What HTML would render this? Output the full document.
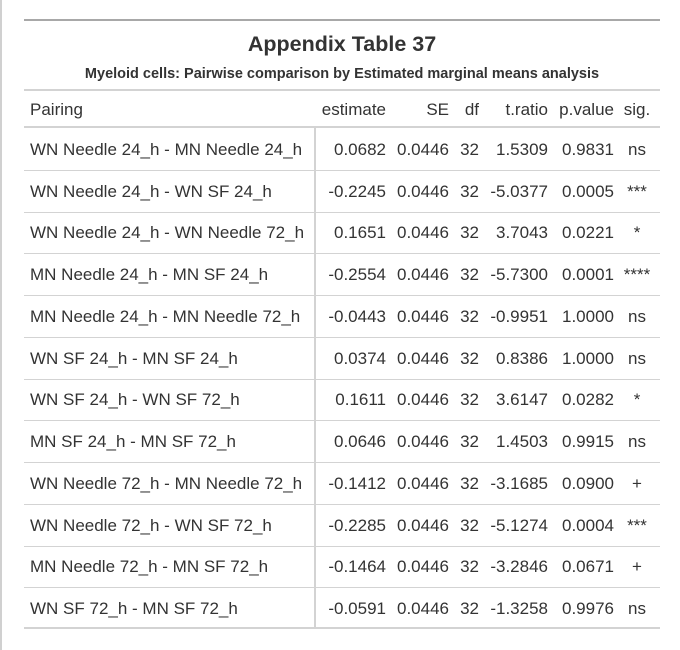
<!DOCTYPE html>
<html><head><meta charset="utf-8"><style>
body{margin:0;width:680px;height:650px;background:#fff;font-family:"Liberation Sans",sans-serif;color:#333;position:relative;overflow:hidden}
.lb{position:absolute;left:0;top:0;width:2px;height:650px;background:#d0d0d0}
.hl{position:absolute;left:24px;width:636px}
.t{position:absolute;white-space:nowrap;font-size:17px;line-height:20px}
.r{text-align:right}
.c{text-align:center}
</style></head><body>
<div class="lb"></div>
<div class="hl" style="top:19px;height:2px;background:#a8a8a8"></div>
<div class="t c" style="left:24px;width:636px;top:31px;font-size:21.5px;line-height:26px;font-weight:bold">Appendix Table 37</div>
<div class="t c" style="left:24px;width:636px;top:66px;font-size:14.5px;line-height:17px;font-weight:bold">Myeloid cells: Pairwise comparison by Estimated marginal means analysis</div>
<div class="hl" style="top:89px;height:2px;background:#d3d3d3"></div>
<div class="hl" style="top:126px;height:2px;background:#d3d3d3"></div>
<div style="position:absolute;left:314px;top:128px;width:2px;height:500px;background:#d3d3d3"></div>
<div class="hl" style="top:627px;height:2px;background:#d3d3d3"></div>
<div id="tbl"></div>
<script>
const pairings=["WN Needle 24_h - MN Needle 24_h","WN Needle 24_h - WN SF 24_h","WN Needle 24_h - WN Needle 72_h","MN Needle 24_h - MN SF 24_h","MN Needle 24_h - MN Needle 72_h","WN SF 24_h - MN SF 24_h","WN SF 24_h - WN SF 72_h","MN SF 24_h - MN SF 72_h","WN Needle 72_h - MN Needle 72_h","WN Needle 72_h - WN SF 72_h","MN Needle 72_h - MN SF 72_h","WN SF 72_h - MN SF 72_h"];
const estimate=["0.0682","-0.2245","0.1651","-0.2554","-0.0443","0.0374","0.1611","0.0646","-0.1412","-0.2285","-0.1464","-0.0591"];
const se=["0.0446","0.0446","0.0446","0.0446","0.0446","0.0446","0.0446","0.0446","0.0446","0.0446","0.0446","0.0446"];
const df=["32","32","32","32","32","32","32","32","32","32","32","32"];
const tratio=["1.5309","-5.0377","3.7043","-5.7300","-0.9951","0.8386","3.6147","1.4503","-3.1685","-5.1274","-3.2846","-1.3258"];
const pvalue=["0.9831","0.0005","0.0221","0.0001","1.0000","1.0000","0.0282","0.9915","0.0900","0.0004","0.0671","0.9976"];
const sig=["ns","***","*","****","ns","ns","*","ns","+","***","+","ns"];
const headers=["Pairing","estimate","SE","df","t.ratio","p.value","sig."];
const cols=[{x:30,cls:""},{x:386,cls:"r"},{x:449,cls:"r"},{x:479,cls:"r"},{x:548,cls:"r"},{x:614,cls:"r"},{x:637,cls:"c"}];
const tbl=document.getElementById('tbl');
function place(txt,ci,y,name){
  const d=document.createElement('div');
  d.className='t '+cols[ci].cls;
  d.textContent=txt;
  const c=cols[ci];
  if(c.cls==='r'){d.style.left=(c.x-100)+'px';d.style.width='100px';}
  else if(c.cls==='c'){d.style.left=(c.x-30)+'px';d.style.width='60px';}
  else{d.style.left=c.x+'px';}
  d.style.top=(y-10)+'px';
  
  
  tbl.appendChild(d);
}
headers.forEach((h,i)=>place(h,i,110,'header-'+h.replace('.','-')));
const rowH=41.75;
pairings.forEach((p,i)=>{
  const y=129+rowH*i+rowH/2;
  const vals=[p,estimate[i],se[i],df[i],tratio[i],pvalue[i],sig[i]];
  vals.forEach((v,ci)=>place(v,ci,y,'cell-r'+(i+1)+'-'+headers[ci].replace('.','-')));
  if(i<pairings.length-1){
    const l=document.createElement('div');
    l.className='hl';
    l.style.top=Math.round(128+rowH*(i+1))+'px';
    l.style.height='1px';l.style.background='#d3d3d3';
    
    
    tbl.appendChild(l);
  }
});
</script>
</body></html>
